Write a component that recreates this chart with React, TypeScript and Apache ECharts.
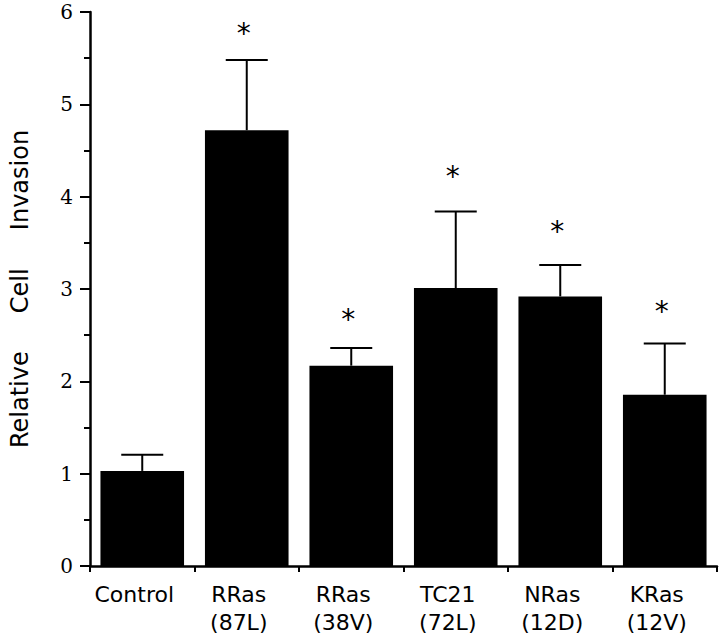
import React, { useEffect, useRef } from "react";
import * as echarts from "echarts";

const categories = ["Control", "RRas\n(87L)", "RRas\n(38V)", "TC21\n(72L)", "NRas\n(12D)", "KRas\n(12V)"];
const means = [1.03, 4.72, 2.17, 3.01, 2.92, 1.855];
const errorTops = [1.205, 5.48, 2.36, 3.84, 3.26, 2.41];
const starValues: (number | null)[] = [null, 5.77, 2.675, 4.22, 3.62, 2.76];
const yTicks = [0, 1, 2, 3, 4, 5, 6];

export default function App() {
  const ref = useRef<HTMLDivElement>(null);
  useEffect(() => {
    if (!ref.current) return;
    const chart = echarts.init(ref.current, null, { renderer: "svg" });
    const errData = means.map((m, i) => [i, m, errorTops[i]]);
    const starData = starValues
      .map((v, i) => (v == null ? null : [i, v]))
      .filter((d) => d != null);
    chart.setOption({
      animation: false,
      backgroundColor: "#ffffff",
      grid: { left: 88, right: 3, top: 12, bottom: 75, containLabel: false },
      xAxis: {
        type: "category",
        data: categories,
        boundaryGap: true,
        axisLine: { show: true, lineStyle: { color: "#000", width: 2.5 } },
        axisTick: { show: true, length: 6, alignWithLabel: false, lineStyle: { color: "#000", width: 2 } },
        axisLabel: {
          interval: 0,
          margin: 14,
          color: "#000",
          fontFamily: "DejaVu Sans",
          fontSize: 22,
          lineHeight: 28,
          padding: [0, 16, 0, 0],
        },
        splitLine: { show: false },
      },
      yAxis: {
        type: "value",
        min: yTicks[0],
        max: yTicks[yTicks.length - 1],
        interval: 1,
        name: "Relative     Cell     Invasion",
        nameLocation: "middle",
        nameRotate: 90,
        nameGap: 58,
        nameTextStyle: { color: "#000", fontFamily: "DejaVu Sans", fontSize: 24 },
        axisLine: { show: true, lineStyle: { color: "#000", width: 2.5 } },
        axisTick: { show: true, length: 10, lineStyle: { color: "#000", width: 2 } },
        minorTick: { show: true, splitNumber: 2, length: 6, lineStyle: { color: "#000", width: 2 } },
        axisLabel: { margin: 17, color: "#000", fontFamily: "DejaVu Serif", fontSize: 20 },
        splitLine: { show: false },
        minorSplitLine: { show: false },
      },
      series: [
        {
          type: "bar",
          data: means,
          barCategoryGap: "20%",
          itemStyle: { color: "#000" },
          z: 2,
        },
        {
          type: "custom",
          data: errData,
          z: 3,
          renderItem: (params: any, api: any) => {
            const i = api.value(0);
            const lo = api.coord([i, api.value(1)]);
            const hi = api.coord([i, api.value(2)]);
            const half = 21;
            const style = { stroke: "#000", lineWidth: 2 };
            return {
              type: "group",
              children: [
                { type: "line", shape: { x1: lo[0], y1: lo[1], x2: hi[0], y2: hi[1] }, style },
                { type: "line", shape: { x1: hi[0] - half, y1: hi[1], x2: hi[0] + half, y2: hi[1] }, style },
              ],
            };
          },
        },
        {
          type: "custom",
          data: starData,
          z: 3,
          renderItem: (params: any, api: any) => {
            const p = api.coord([api.value(0), api.value(1)]);
            return {
              type: "text",
              x: p[0] - 3,
              y: p[1],
              style: {
                text: "*",
                fontSize: 28,
                fontFamily: "DejaVu Sans",
                fill: "#000",
                align: "center",
                verticalAlign: "middle",
              },
            };
          },
        },
      ],
    });
    return () => chart.dispose();
  }, []);
  return (
    <div
      ref={ref}
      style={{ position: "absolute", left: 0, top: 0, width: 720, height: 641, background: "#fff" }}
    />
  );
}
